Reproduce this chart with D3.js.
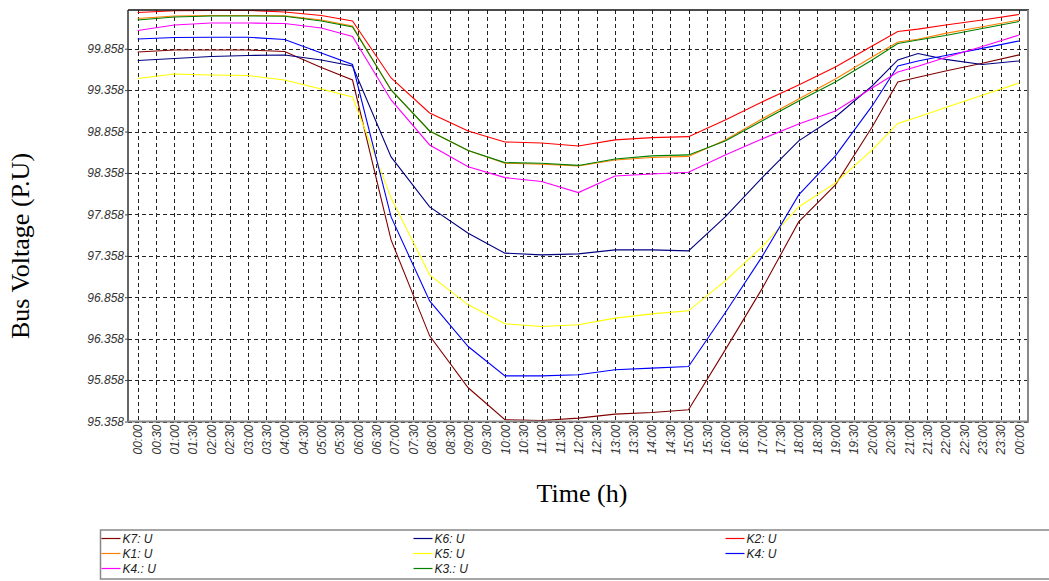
<!DOCTYPE html>
<html>
<head>
<meta charset="utf-8">
<script src="https://cdn.jsdelivr.net/npm/d3@7"></script>
<style>
  html, body { margin: 0; padding: 0; background: #fff; }
  svg { display: block; }
  .tick-label { font-family: "Liberation Sans", Arial, sans-serif; font-style: italic; font-size: 12px; fill: #333; }
  .axis-title { font-family: "Liberation Serif", "Times New Roman", serif; font-size: 26px; fill: #000; }
  .legend-text { font-family: "Liberation Sans", Arial, sans-serif; font-style: italic; font-size: 12px; fill: #222; }
</style>
</head>
<body>
<svg id="chart" width="1049" height="581"></svg>
<script>
// Sample times in hours of the day (24 = midnight of the next day)
const times = [0, 1, 2, 3, 4, 5, 5.85, 6.9, 7.95, 9, 10, 11, 12, 13, 14, 15, 16, 17, 18, 19, 20, 20.7, 21.25, 22, 23, 24];

// Bus voltage profiles (P.U)
const k7 = [99.818, 99.842, 99.842, 99.842, 99.824, 99.630, 99.480, 97.550, 96.392, 95.765, 95.379, 95.370, 95.399, 95.447, 95.467, 95.499, 96.223, 96.959, 97.767, 98.214, 98.913, 99.456, 99.513, 99.588, 99.683, 99.783];
const k6 = [99.716, 99.740, 99.764, 99.776, 99.782, 99.722, 99.649, 98.552, 97.948, 97.631, 97.390, 97.369, 97.381, 97.430, 97.430, 97.418, 97.828, 98.298, 98.745, 99.034, 99.408, 99.722, 99.800, 99.729, 99.667, 99.710];
const k2 = [100.295, 100.316, 100.321, 100.321, 100.301, 100.259, 100.192, 99.505, 99.082, 98.865, 98.732, 98.720, 98.684, 98.757, 98.784, 98.796, 98.998, 99.215, 99.420, 99.637, 99.891, 100.066, 100.094, 100.144, 100.204, 100.271];
const k1 = [100.222, 100.253, 100.259, 100.259, 100.256, 100.204, 100.132, 99.360, 98.865, 98.628, 98.476, 98.463, 98.443, 98.515, 98.545, 98.558, 98.757, 99.010, 99.251, 99.493, 99.758, 99.939, 99.971, 100.043, 100.123, 100.204];
const k5 = [99.499, 99.553, 99.541, 99.535, 99.480, 99.372, 99.275, 98.057, 97.128, 96.766, 96.537, 96.504, 96.525, 96.606, 96.657, 96.694, 97.056, 97.466, 97.948, 98.238, 98.636, 98.956, 99.034, 99.149, 99.297, 99.444];
const k4 = [99.975, 99.993, 99.996, 99.996, 99.969, 99.806, 99.667, 97.828, 96.814, 96.263, 95.909, 95.909, 95.922, 95.982, 96.002, 96.022, 96.670, 97.345, 98.093, 98.564, 99.167, 99.649, 99.710, 99.775, 99.862, 99.951];
const k4b = [100.078, 100.144, 100.168, 100.168, 100.162, 100.108, 100.005, 99.239, 98.696, 98.434, 98.302, 98.254, 98.121, 98.322, 98.346, 98.367, 98.576, 98.769, 98.950, 99.106, 99.384, 99.577, 99.647, 99.751, 99.885, 100.023];
const k3b = [100.204, 100.240, 100.253, 100.253, 100.250, 100.192, 100.120, 99.360, 98.865, 98.630, 98.483, 98.476, 98.449, 98.527, 98.564, 98.576, 98.745, 98.986, 99.227, 99.456, 99.722, 99.921, 99.962, 100.017, 100.102, 100.186];

const seriesNames  = ["K7: U", "K6: U", "K2: U", "K1: U", "K5: U", "K4: U", "K4.: U", "K3.: U"];
const seriesValues = [k7, k6, k2, k1, k5, k4, k4b, k3b];
const seriesColors = ["#800000", "#000080", "#ff0000", "#ff8000", "#ffff00", "#0000ff", "#ff00ff", "#008000"];

// Axis ticks
const yTicks = [95.358, 95.858, 96.358, 96.858, 97.358, 97.858, 98.358, 98.858, 99.358, 99.858];
const xTicks = d3.range(0, 24.001, 0.5);
const yDomain = [95.358, 100.325];

const svg = d3.select("#chart");
const frame = { left: 128, right: 1028, top: 10, bottom: 421.5 };

const x = d3.scaleLinear().domain([0, 24]).range([137.7, 1019]);
const y = d3.scaleLinear().domain(yDomain).range([frame.bottom, frame.top]);

const fmtTime = h => {
  const hh = Math.floor(h) % 24;
  const mm = Math.round((h - Math.floor(h)) * 60);
  return String(hh).padStart(2, "0") + ":" + String(mm).padStart(2, "0");
};

// Grid
const grid = svg.append("g").attr("shape-rendering", "crispEdges");
grid.selectAll("line.v").data(xTicks).join("line")
  .attr("x1", d => Math.round(x(d)) + 0.5).attr("x2", d => Math.round(x(d)) + 0.5)
  .attr("y1", frame.top).attr("y2", frame.bottom)
  .attr("stroke", "#222").attr("stroke-width", 1).attr("stroke-dasharray", "4,3");
grid.selectAll("line.h").data(yTicks).join("line")
  .attr("x1", frame.left).attr("x2", frame.right)
  .attr("y1", d => Math.round(y(d)) + 0.5).attr("y2", d => Math.round(y(d)) + 0.5)
  .attr("stroke", "#222").attr("stroke-width", 1).attr("stroke-dasharray", "4,3");

// Series lines
svg.append("clipPath").attr("id", "plot-clip").append("rect")
  .attr("x", frame.left).attr("y", frame.top)
  .attr("width", frame.right - frame.left).attr("height", frame.bottom - frame.top);

const line = d3.line().x((d, i) => x(times[i])).y(d => y(d));
svg.append("g").attr("clip-path", "url(#plot-clip)")
  .selectAll("path").data(seriesValues).join("path")
  .attr("d", d => line(d))
  .attr("fill", "none")
  .attr("stroke", (d, i) => seriesColors[i])
  .attr("stroke-width", 1.1);

// Frame
svg.append("line").attr("x1", frame.left).attr("x2", frame.right + 1).attr("y1", frame.top).attr("y2", frame.top)
  .attr("stroke", "#111").attr("stroke-width", 1.5);
svg.append("line").attr("x1", frame.left).attr("x2", frame.left).attr("y1", frame.top).attr("y2", frame.bottom)
  .attr("stroke", "#333").attr("stroke-width", 1.5);
svg.append("line").attr("x1", frame.right).attr("x2", frame.right).attr("y1", frame.top).attr("y2", frame.bottom + 1)
  .attr("stroke", "#888").attr("stroke-width", 2);
svg.append("line").attr("x1", frame.left).attr("x2", frame.right + 1).attr("y1", frame.bottom).attr("y2", frame.bottom)
  .attr("stroke", "#888").attr("stroke-width", 2);

// Y axis labels
const gy = svg.append("g").attr("transform", `translate(${frame.left},0)`)
  .call(d3.axisLeft(y).tickValues(yTicks).tickFormat(d3.format(".3f")).tickSize(3).tickPadding(1));
gy.select(".domain").remove();
gy.selectAll("line").attr("stroke", "#444");
gy.selectAll("text").attr("class", "tick-label").attr("font-size", null).attr("font-family", null);
gy.attr("font-size", null).attr("font-family", null);

// X axis labels (vertical)
const gx = svg.append("g").attr("transform", `translate(0,${frame.bottom})`)
  .call(d3.axisBottom(x).tickValues(xTicks).tickFormat(fmtTime).tickSize(0).tickPadding(0));
gx.select(".domain").remove();
gx.attr("font-size", null).attr("font-family", null);
gx.selectAll("text")
  .attr("class", "tick-label")
  .attr("transform", "rotate(-90)")
  .attr("x", -3).attr("y", 0).attr("dy", "0.35em")
  .style("text-anchor", "end");

// Axis titles
svg.append("text").attr("class", "axis-title")
  .attr("transform", "translate(29,246) rotate(-90)")
  .attr("text-anchor", "middle")
  .text("Bus Voltage (P.U)");
svg.append("text").attr("class", "axis-title")
  .attr("x", 582).attr("y", 502)
  .attr("text-anchor", "middle")
  .text("Time (h)");

// Legend
const legend = svg.append("g");
legend.append("rect").attr("x", 100.5).attr("y", 530).attr("width", 1000).attr("height", 49)
  .attr("fill", "none").attr("stroke", "#888").attr("stroke-width", 1.5);
const legendCols = [101.5, 413.5, 725.5];
const legendRows = [538.5, 553.5, 568.5];
seriesNames.forEach((name, i) => {
  const cx = legendCols[i % 3];
  const cy = legendRows[Math.floor(i / 3)];
  legend.append("line").attr("x1", cx).attr("x2", cx + 19).attr("y1", cy).attr("y2", cy)
    .attr("stroke", seriesColors[i]).attr("stroke-width", 1.2);
  legend.append("text").attr("class", "legend-text")
    .attr("x", cx + 21).attr("y", cy).attr("dy", "0.35em")
    .text(name);
});
</script>
</body>
</html>
